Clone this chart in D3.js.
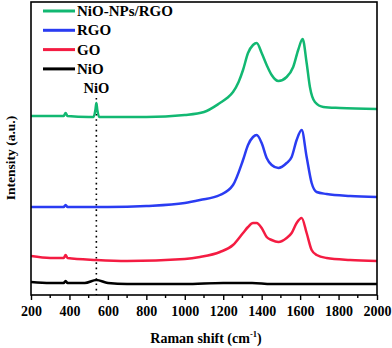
<!DOCTYPE html>
<html>
<head>
<meta charset="utf-8">
<style>
  body { margin: 0; background: #fff; }
  svg text { font-family: "Liberation Serif", "Times New Roman", serif; font-weight: bold; }
</style>
<title>Raman spectra</title>
</head>
<body>
<script src="https://cdn.jsdelivr.net/npm/d3@7/dist/d3.min.js"></script>
<script>
// Raman shift (cm-1) and intensity (a.u.) of each spectrum
var greenShift = [200, 300, 370, 380, 390, 500, 525, 535, 540, 545, 555, 600, 800, 1000, 1100, 1183, 1220, 1251, 1280, 1303, 1329, 1355, 1374, 1400, 1426, 1452, 1487, 1530, 1564, 1590, 1613, 1634, 1651, 1677, 1721, 1808, 2000];
var greenInt   = [180, 180, 180, 183, 180, 179, 179, 186, 193, 186, 179, 179, 179, 181, 184, 193, 198, 204, 214, 226, 243, 251, 253, 243, 231, 221, 215, 219, 229, 246, 257, 233, 209, 194, 189, 188, 187];

var blueShift = [200, 300, 370, 380, 390, 500, 540, 600, 800, 1000, 1079, 1183, 1251, 1303, 1329, 1355, 1374, 1400, 1426, 1452, 1487, 1530, 1556, 1582, 1608, 1634, 1660, 1686, 1738, 1860, 2000];
var blueInt   = [89, 89, 89, 91, 89, 89, 89, 89, 90, 93, 96, 101, 111, 136, 151, 159, 161, 153, 138, 131, 128, 133, 139, 156, 166, 139, 113, 104, 102, 100, 99];

var redShift = [200, 300, 370, 380, 390, 540, 700, 1000, 1079, 1183, 1251, 1303, 1329, 1355, 1374, 1400, 1426, 1452, 1487, 1530, 1556, 1582, 1608, 1634, 1660, 1686, 1738, 1860, 2000];
var redInt   = [40, 38, 38, 41, 38, 36, 35, 37, 39, 44, 51, 63, 69, 73, 73, 68, 59, 56, 54, 58, 63, 73, 78, 63, 46, 41, 38, 36, 35];

var blackShift = [200, 300, 370, 380, 390, 480, 540, 600, 700, 1000, 1200, 1280, 1350, 1450, 2000];
var blackInt   = [14, 13, 13, 15, 13, 13, 16, 13, 12, 12, 13, 13, 13, 12, 12];

var seriesNames  = ["NiO-NPs/RGO", "RGO", "GO", "NiO"];
var seriesColors = ["#12b872", "#2a3cf2", "#f41c42", "#000000"];
var xTicks = [200, 400, 600, 800, 1000, 1200, 1400, 1600, 1800, 2000];
var xMinorTicks = [300, 500, 700, 900, 1100, 1300, 1500, 1700, 1900];
var markerShift = 540;   // NiO band

var series = [
  {shift: greenShift, val: greenInt},
  {shift: blueShift, val: blueInt},
  {shift: redShift, val: redInt},
  {shift: blackShift, val: blackInt}
];

var margin = {top: 2, right: 15, bottom: 53, left: 31},
    width = 392 - margin.left - margin.right,
    height = 348 - margin.top - margin.bottom;

var svg = d3.select("body").append("svg")
    .attr("width", 392)
    .attr("height", 348)
  .append("g")
    .attr("transform", "translate(" + margin.left + "," + margin.top + ")");

var x = d3.scaleLinear().domain([200, 2000]).range([0, width]);
var y = d3.scaleLinear().domain([1, 294]).range([height, 0]);

svg.append("defs").append("clipPath").attr("id", "clip")
  .append("rect").attr("width", width).attr("height", height);

// dotted marker line at NiO band
svg.append("line")
    .attr("x1", x(markerShift)).attr("x2", x(markerShift))
    .attr("y1", 96).attr("y2", height)
    .attr("stroke", "#000")
    .attr("stroke-width", 1.6)
    .attr("stroke-dasharray", "1.6,3.7");

svg.append("text")
    .attr("x", x(markerShift))
    .attr("y", 91)
    .attr("text-anchor", "middle")
    .attr("font-size", 14.5)
    .text("NiO");

var line = d3.line()
    .x(function (d) { return x(d[0]); })
    .y(function (d) { return y(d[1]); })
    .curve(d3.curveMonotoneX);

var plot = svg.append("g").attr("clip-path", "url(#clip)");
series.slice().reverse().forEach(function (s, i) {
  var idx = series.length - 1 - i;
  var pts = s.shift.map(function (v, j) { return [v, s.val[j]]; });
  plot.append("path")
      .datum(pts)
      .attr("fill", "none")
      .attr("stroke", seriesColors[idx])
      .attr("stroke-width", 2.5)
      .attr("stroke-linejoin", "round")
      .attr("d", line);
});

// x axis, outward ticks
var xAxis = svg.append("g")
    .attr("transform", "translate(0," + height + ")")
    .call(d3.axisBottom(x).tickValues(xTicks).tickSize(5).tickPadding(6).tickFormat(d3.format("d")));
xAxis.select(".domain").remove();
xAxis.selectAll("text").attr("font-size", 14).attr("font-family", "Liberation Serif").attr("font-weight", "bold").attr("fill", "#000");
xAxis.selectAll("line").attr("stroke-width", 1.4);

svg.append("g").selectAll("line")
    .data(xMinorTicks).enter().append("line")
    .attr("x1", function (d) { return x(d); })
    .attr("x2", function (d) { return x(d); })
    .attr("y1", height).attr("y2", height + 3)
    .attr("stroke", "#000").attr("stroke-width", 1.4);

// frame
svg.append("rect")
    .attr("width", width).attr("height", height)
    .attr("fill", "none").attr("stroke", "#000").attr("stroke-width", 1.6);

// legend
var legend = svg.append("g").selectAll("g")
    .data(seriesNames).enter().append("g")
    .attr("transform", function (d, i) { return "translate(12," + (9 + i * 19.3) + ")"; });
legend.append("line")
    .attr("x1", 0).attr("x2", 32)
    .attr("stroke", function (d, i) { return seriesColors[i]; })
    .attr("stroke-width", 3);
legend.append("text")
    .attr("x", 34).attr("y", 5)
    .attr("font-size", 15)
    .text(function (d) { return d; });

// axis labels
svg.append("text")
    .attr("x", width / 2 + 2)
    .attr("y", height + 48)
    .attr("text-anchor", "middle")
    .attr("font-size", 14)
    .html('Raman shift (cm<tspan dy="-6" font-size="8.5">-1</tspan><tspan dy="6">)</tspan>');

svg.append("text")
    .attr("transform", "rotate(-90)")
    .attr("x", -156)
    .attr("y", -16)
    .attr("text-anchor", "middle")
    .attr("font-size", 13.5)
    .text("Intensity (a.u.)");
</script>
</body>
</html>
